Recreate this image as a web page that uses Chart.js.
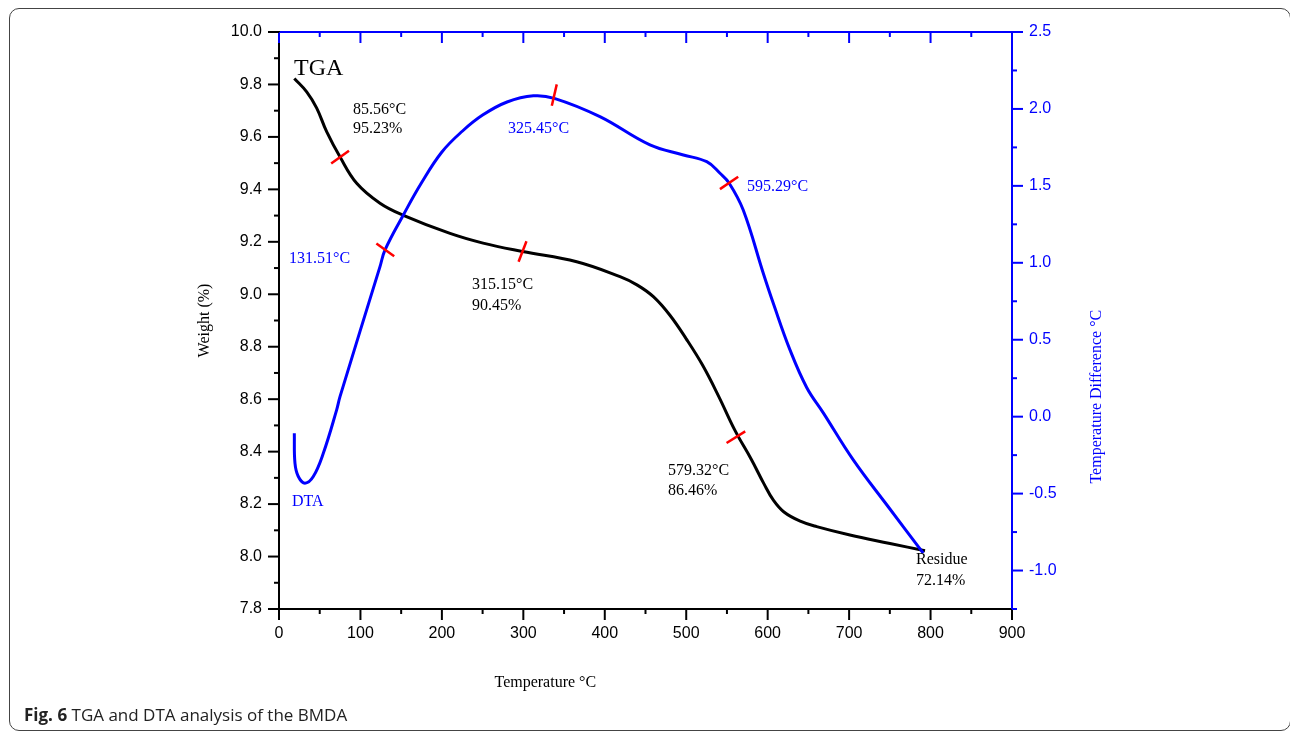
<!DOCTYPE html>
<html lang="en">
<head>
    <meta charset="UTF-8">
    <title>TGA and DTA analysis of the BMDA</title>
    <script src="https://cdn.jsdelivr.net/npm/chart.js"></script>
    <style>
        body {
            margin: 0;
            background: #fff;
            width: 1290px;
            height: 734px;
            overflow: hidden;
            position: relative;
        }
        .frame {
            position: absolute;
            left: 9px;
            top: 8px;
            width: 1282px;
            height: 723px;
            border: 1.5px solid #444;
            border-radius: 10px;
            box-sizing: border-box;
        }
        canvas {
            position: absolute;
            left: 0;
            top: 0;
        }
        .caption {
            position: absolute;
            left: 24px;
            top: 703px;
            font-family: "Open Sans", Arial, sans-serif;
            font-size: 17px;
            color: #222;
        }
        .caption b { font-weight: 700; }
    </style>
</head>
<body>

<div class="frame"></div>
<canvas id="grafico" width="1290" height="734"></canvas>
<div class="caption"><b>Fig. 6</b> TGA and DTA analysis of the BMDA</div>

<script>
    // curva TGA (temperatura °C, peso %)
    const tgaTemp = [18.8, 34, 46.3, 58.5, 75, 95.4, 124, 152, 210, 250.6, 299, 365.5, 418.7, 440, 460, 480, 500, 520, 540, 560, 580, 595, 607, 620, 640, 660.2, 701, 750.2, 793.2];
    const tgaWeight = [9.823, 9.772, 9.71, 9.62, 9.523, 9.423, 9.347, 9.302, 9.232, 9.195, 9.163, 9.124, 9.067, 9.035, 8.99, 8.92, 8.83, 8.73, 8.61, 8.48, 8.37, 8.28, 8.215, 8.17, 8.135, 8.114, 8.082, 8.05, 8.022];

    // curva DTA (temperatura °C, diferencia de temperatura °C)
    const dtaTemp = [18.8, 19.6, 23.7, 31.9, 42.1, 54.4, 70.8, 74.9, 124, 130.2, 152.7, 175, 200, 225, 250, 280, 312.3, 338, 394, 455.5, 496.5, 525.2, 541.5, 552.6, 570, 594.6, 606.9, 627.4, 647.9, 668.3, 705.1, 747.8, 791];
    const dtaDiff = [-0.108, -0.302, -0.389, -0.432, -0.389, -0.238, 0.044, 0.130, 0.975, 1.084, 1.311, 1.52, 1.72, 1.855, 1.96, 2.045, 2.085, 2.069, 1.950, 1.766, 1.701, 1.657, 1.582, 1.519, 1.343, 0.932, 0.737, 0.434, 0.19, 0.025, -0.281, -0.584, -0.887];

    // marcas rojas
    const tgaMarkTemp = [75, 299, 561];
    const tgaMarkWeight = [9.523, 9.163, 8.455];
    const tgaMarkRot = [-36, -69, -32];
    const dtaMarkTemp = [130.5, 338, 552.6];
    const dtaMarkDiff = [1.084, 2.09, 1.519];
    const dtaMarkRot = [36, -77, -34];

    // ticks
    const xTicks = [0, 100, 200, 300, 400, 500, 600, 700, 800, 900];
    const xMinor = [50, 150, 250, 350, 450, 550, 650, 750, 850];
    const yTicks = [7.8, 8.0, 8.2, 8.4, 8.6, 8.8, 9.0, 9.2, 9.4, 9.6, 9.8, 10.0];
    const yMinor = [7.9, 8.1, 8.3, 8.5, 8.7, 8.9, 9.1, 9.3, 9.5, 9.7, 9.9];
    const y2Ticks = [-1.0, -0.5, 0.0, 0.5, 1.0, 1.5, 2.0, 2.5];
    const y2Minor = [-1.25, -0.75, -0.25, 0.25, 0.75, 1.25, 1.75, 2.25];

    // textos sobre el gráfico: [texto, temp, valor, eje, color, tamaño]
    const notas = [
        ['TGA', 18.4, 9.836, 'y', '#000', 24],
        ['85.56°C', 90.9, 9.687, 'y', '#000', 16],
        ['95.23%', 90.9, 9.615, 'y', '#000', 16],
        ['131.51°C', 12.3, 0.999, 'y2', '#0000ff', 16],
        ['325.45°C', 281.2, 1.844, 'y2', '#0000ff', 16],
        ['595.29°C', 574.6, 1.467, 'y2', '#0000ff', 16],
        ['315.15°C', 237, 9.020, 'y', '#000', 16],
        ['90.45%', 237, 8.940, 'y', '#000', 16],
        ['579.32°C', 477.6, 8.311, 'y', '#000', 16],
        ['86.46%', 477.6, 8.235, 'y', '#000', 16],
        ['DTA', 16, -0.580, 'y2', '#0000ff', 16],
        ['Residue', 782.1, 7.972, 'y', '#000', 16],
        ['72.14%', 782.1, 7.892, 'y', '#000', 16]
    ];

    const AZUL = '#0000ff';
    const serif = '"Liberation Serif", "Times New Roman", serif';
    const sans = '"Liberation Sans", Arial, sans-serif';

    function puntos(xs, ys) {
        return xs.map((x, i) => ({ x: x, y: ys[i] }));
    }

    // dibuja ticks mayores y menores, titulos y notas
    const ticksPlugin = {
        id: 'ticksPlugin',
        afterDraw(chart) {
            const { ctx, chartArea: a, scales } = chart;
            ctx.save();
            ctx.lineWidth = 2;
            function marca(x1, y1, x2, y2, color) {
                ctx.strokeStyle = color;
                ctx.beginPath();
                ctx.moveTo(x1, y1);
                ctx.lineTo(x2, y2);
                ctx.stroke();
            }
            xTicks.forEach(v => {
                const p = scales.x.getPixelForValue(v);
                marca(p, a.bottom, p, a.bottom + 11, '#000');
                marca(p, a.top, p, a.top + 11, AZUL);
            });
            xMinor.forEach(v => {
                const p = scales.x.getPixelForValue(v);
                marca(p, a.bottom, p, a.bottom + 5, '#000');
                marca(p, a.top, p, a.top + 5, AZUL);
            });
            yTicks.forEach(v => {
                const p = scales.y.getPixelForValue(v);
                marca(a.left - 11, p, a.left, p, '#000');
            });
            yMinor.forEach(v => {
                const p = scales.y.getPixelForValue(v);
                marca(a.left - 5, p, a.left, p, '#000');
            });
            y2Ticks.forEach(v => {
                const p = scales.y2.getPixelForValue(v);
                marca(a.right, p, a.right + 11, p, AZUL);
            });
            y2Minor.forEach(v => {
                const p = scales.y2.getPixelForValue(v);
                marca(a.right, p, a.right + 5, p, AZUL);
            });

            // titulos de ejes
            ctx.font = '16px ' + serif;
            ctx.textAlign = 'center';
            ctx.textBaseline = 'middle';
            ctx.fillStyle = '#000';
            ctx.fillText('Temperature °C', scales.x.getPixelForValue(327), a.bottom + 74);
            ctx.save();
            ctx.translate(a.left - 74, (a.top + a.bottom) / 2);
            ctx.rotate(-Math.PI / 2);
            ctx.fillText('Weight (%)', 0, 0);
            ctx.restore();
            ctx.save();
            ctx.fillStyle = AZUL;
            ctx.translate(a.right + 85, scales.y2.getPixelForValue(0.13));
            ctx.rotate(-Math.PI / 2);
            ctx.fillText('Temperature Difference °C', 0, 0);
            ctx.restore();

            // notas
            ctx.textAlign = 'left';
            ctx.textBaseline = 'alphabetic';
            notas.forEach(n => {
                ctx.font = n[5] + 'px ' + serif;
                ctx.fillStyle = n[4];
                ctx.fillText(n[0], scales.x.getPixelForValue(n[1]), scales[n[3]].getPixelForValue(n[2]));
            });
            ctx.restore();
        }
    };

    const ctx = document.getElementById('grafico').getContext('2d');
    const grafico = new Chart(ctx, {
        type: 'line',
        data: {
            datasets: [
                {
                    type: 'scatter',
                    data: puntos(tgaMarkTemp, tgaMarkWeight),
                    yAxisID: 'y',
                    pointStyle: 'line',
                    pointRadius: 11,
                    pointRotation: c => tgaMarkRot[c.dataIndex],
                    pointBorderColor: '#ff0000',
                    pointBorderWidth: 2.5,
                    showLine: false
                },
                {
                    type: 'scatter',
                    data: puntos(dtaMarkTemp, dtaMarkDiff),
                    yAxisID: 'y2',
                    pointStyle: 'line',
                    pointRadius: 11,
                    pointRotation: c => dtaMarkRot[c.dataIndex],
                    pointBorderColor: '#ff0000',
                    pointBorderWidth: 2.5,
                    showLine: false
                },
                {
                    label: 'DTA',
                    data: puntos(dtaTemp, dtaDiff),
                    yAxisID: 'y2',
                    borderColor: AZUL,
                    borderWidth: 3,
                    pointRadius: 0,
                    tension: 0.4,
                    fill: false
                },
                {
                    label: 'TGA',
                    data: puntos(tgaTemp, tgaWeight),
                    yAxisID: 'y',
                    borderColor: '#000',
                    borderWidth: 3,
                    pointRadius: 0,
                    tension: 0.4,
                    fill: false
                }
            ]
        },
        options: {
            responsive: false,
            animation: false,
            layout: { padding: 0 },
            plugins: {
                legend: { display: false },
                tooltip: { enabled: false }
            },
            scales: {
                x: {
                    type: 'linear',
                    position: 'bottom',
                    min: 0,
                    max: 900,
                    afterBuildTicks: s => { s.ticks = xTicks.map(v => ({ value: v })); },
                    afterFit: s => { s.height = 125; },
                    ticks: { color: '#000', font: { family: sans, size: 16 }, padding: 15, maxRotation: 0 },
                    grid: { display: false, drawTicks: false },
                    border: { color: '#000', width: 2 }
                },
                x2: {
                    type: 'linear',
                    position: 'top',
                    min: 0,
                    max: 900,
                    afterFit: s => { s.height = 32; },
                    ticks: { display: false },
                    grid: { display: false, drawTicks: false },
                    border: { color: AZUL, width: 2 }
                },
                y: {
                    type: 'linear',
                    position: 'left',
                    min: 7.8,
                    max: 10.0,
                    afterBuildTicks: s => { s.ticks = yTicks.map(v => ({ value: v })); },
                    afterFit: s => { s.width = 279; },
                    ticks: { color: '#000', font: { family: sans, size: 16 }, padding: 17, callback: v => v.toFixed(1) },
                    grid: { display: false, drawTicks: false },
                    border: { color: '#000', width: 2 }
                },
                y2: {
                    type: 'linear',
                    position: 'right',
                    min: -1.25,
                    max: 2.5,
                    afterBuildTicks: s => { s.ticks = y2Ticks.map(v => ({ value: v })); },
                    afterFit: s => { s.width = 278; },
                    ticks: { color: AZUL, font: { family: sans, size: 16 }, padding: 17, callback: v => v.toFixed(1) },
                    grid: { display: false, drawTicks: false },
                    border: { color: AZUL, width: 2 }
                }
            }
        },
        plugins: [ticksPlugin]
    });
</script>

</body>
</html>
